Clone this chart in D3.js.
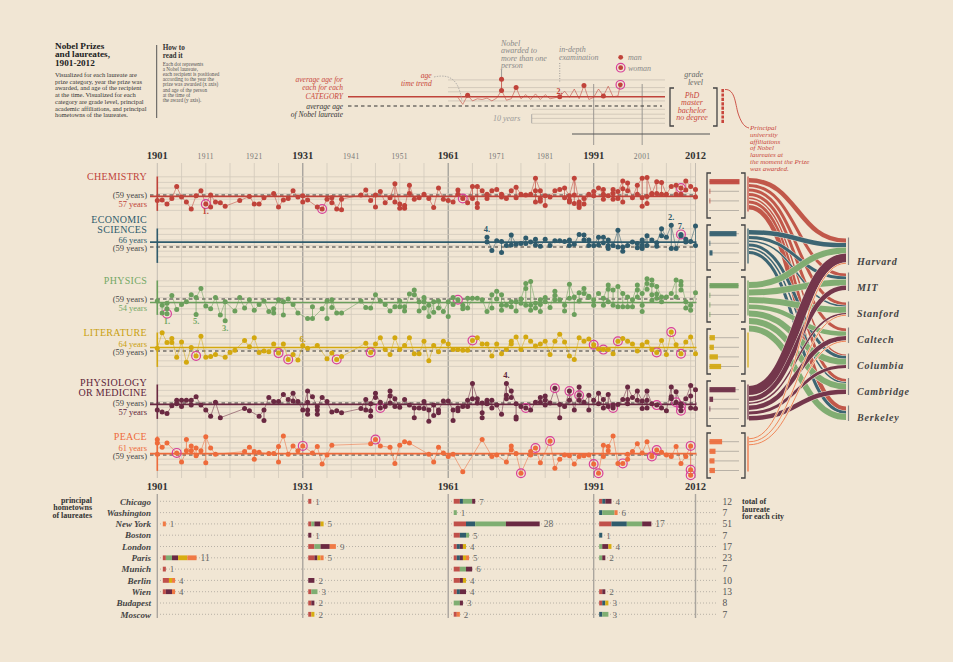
<!DOCTYPE html>
<html>
<head>
<meta charset="utf-8">
<script src="https://cdn.jsdelivr.net/npm/d3@7"></script>
<style>
html,body{margin:0;padding:0;background:#f1e6d4;overflow:hidden;}
</style>
</head>
<body>
<script>
// ================= DATA =================
const categoryTitles = [["CHEMISTRY"],["ECONOMIC","SCIENCES"],["PHYSICS"],["LITERATURE"],["PHYSIOLOGY","OR MEDICINE"],["PEACE"]];
const categoryColors = ["#c0433a","#2f5b6c","#6b9f5c","#d3a80f","#6a2942","#ee6b3b"];
const labelColors = ["#c0433a","#2f5b6c","#74a865","#c9a010","#5e2439","#ee6b3b"];
const averageAges = [57,66,54,64,57,61];
const overallAverage = 59;

// [year, age at award, woman flag]
const chemistry = [[1901,51],[1902,52],[1903,46],[1904,54],[1905,71],[1906,56],[1907,49],[1908,39],[1909,58],[1910,65],[1911,46,1],[1912,59],[1912,42],[1913,49],[1914,48],[1915,43],[1918,51],[1920,57],[1921,46],[1922,46],[1923,55],[1925,61],[1926,42],[1927,52],[1928,54],[1929,65],[1930,56],[1931,58],[1931,49],[1932,52],[1934,42],[1935,39,1],[1936,53],[1937,55],[1937,48],[1938,39],[1939,53],[1939,38],[1943,59],[1944,66],[1945,51],[1946,59],[1946,42],[1947,64],[1948,48],[1949,55],[1950,75],[1950,49],[1951,46],[1951,40],[1952,40],[1952,44],[1953,73],[1953,61],[1954,53],[1955,55],[1956,60],[1957,54],[1958,41],[1959,69],[1960,53],[1961,51],[1962,49],[1963,66],[1963,60],[1964,54,1],[1965,48],[1966,71],[1966,54],[1967,71],[1967,47],[1967,41],[1968,65],[1969,54],[1969,60],[1970,65],[1971,67],[1972,60],[1972,56],[1973,54],[1974,65],[1975,70],[1975,55],[1976,60],[1977,59],[1978,60],[1979,83],[1979,65],[1979,49],[1980,65],[1980,54],[1980,50],[1981,58],[1981,44],[1982,56],[1983,65],[1984,67],[1985,69],[1985,55],[1986,58],[1986,52],[1986,49],[1987,83],[1987,59],[1987,47],[1988,49],[1988,41],[1988,44],[1989,46],[1989,54],[1990,60],[1991,58],[1991,64],[1992,69],[1993,60],[1993,53],[1993,67],[1994,58],[1995,67],[1995,53],[1995,61],[1996,64],[1996,54],[1997,79],[1997,68],[1997,49],[1998,76],[1998,65],[1999,55],[2000,73],[2000,60],[2001,83],[2001,55],[2001,43],[2002,84],[2002,47],[2002,57],[2003,61],[2003,60],[2004,78],[2004,61],[2005,77],[2005,60],[2006,60],[2007,71],[2008,73],[2008,60],[2009,69,1],[2009,60],[2010,79],[2010,66],[2011,71],[2012,67],[2012,56]];

const economics = [[1969,73],[1969,66],[1970,54],[1971,68],[1972,67],[1972,51],[1973,61],[1974,76],[1974,62],[1975,63],[1976,64],[1977,72],[1977,64],[1978,66],[1979,70],[1979,62],[1980,60],[1981,70],[1982,61],[1983,68],[1984,68],[1985,67],[1986,69],[1986,61],[1987,63],[1988,77],[1989,76],[1989,69],[1990,69],[1990,61],[1991,61],[1992,73],[1992,62],[1993,73],[1993,65],[1994,69],[1994,61],[1994,57],[1995,61],[1996,83],[1996,59],[1997,59],[1997,53],[1998,61],[1999,66],[2000,64],[2000,58],[2001,57],[2001,62],[2001,69],[2002,75],[2002,61],[2003,69],[2004,65],[2004,60],[2005,85],[2005,75],[2006,73],[2007,90],[2007,57],[2008,57],[2009,77,1],[2009,75],[2010,70],[2010,66],[2011,67],[2012,89],[2012,61]];

const physics = [[1901,56],[1902,50],[1902,39],[1903,53],[1903,45],[1903,38,1],[1904,64],[1905,44],[1906,51],[1907,55],[1908,65],[1909,61],[1909,37],[1910,74],[1911,49],[1912,45],[1913,61],[1914,36],[1915,55],[1915,28],[1917,42],[1918,61],[1919,46],[1920,58],[1921,43],[1922,51],[1923,56],[1924,41],[1925,45],[1925,39],[1926,58],[1927,55],[1927,36],[1928,59],[1929,51],[1930,39],[1932,31],[1933,31],[1933,48],[1935,45],[1936,56],[1936,31],[1937,58],[1937,47],[1938,39],[1939,39],[1943,56],[1944,47],[1945,46],[1946,65],[1947,56],[1948,51],[1949,42],[1950,48],[1951,56],[1951,48],[1952,42],[1952,48],[1953,66],[1954,72],[1954,65],[1955,55],[1955,42],[1956,61],[1956,46],[1956,55],[1957,34],[1957,50],[1958,55],[1958,40],[1959,56],[1959,46],[1960,41],[1961,55],[1961,34],[1962,61],[1962,51],[1963,58,1],[1964,50],[1964,45],[1965,46],[1965,60],[1966,60],[1967,60],[1968,58],[1969,41],[1970,65],[1970,46],[1971,70],[1971,59],[1972,65],[1972,43],[1972,50],[1973,50],[1974,55],[1974,48],[1975,55],[1975,42],[1976,59],[1976,53],[1977,81],[1977,74],[1977,50],[1978,84],[1978,50],[1978,43],[1979,53],[1979,46],[1980,58],[1980,51],[1980,41],[1981,61],[1981,55],[1982,47],[1983,70],[1983,64],[1983,58],[1984,58],[1985,50],[1985,42],[1986,80],[1986,60],[1987,62],[1987,37],[1988,68],[1988,56],[1989,74],[1989,67],[1990,63],[1990,61],[1991,58],[1991,50],[1992,67],[1993,60],[1993,50],[1994,79],[1994,73],[1994,55],[1995,72],[1995,50],[1996,77],[1996,48],[1997,67],[1997,48],[1998,62],[1998,48],[1999,58],[1999,48],[2000,79],[2000,72],[2000,62],[2001,67],[2001,50],[2001,41],[2002,88],[2002,81],[2002,73],[2003,86],[2003,79],[2003,65],[2003,57],[2004,77],[2004,66],[2004,60],[2005,62],[2005,55],[2006,62],[2007,67],[2008,86],[2008,62],[2009,84],[2009,79],[2009,72],[2010,55],[2010,46],[2011,43],[2011,50],[2012,68]];

const literature = [[1901,63],[1902,85],[1903,71],[1904,77],[1904,71],[1905,50],[1906,72],[1907,43],[1908,64],[1909,52,1],[1910,80],[1911,50],[1912,51],[1913,54],[1915,50],[1916,57],[1917,60],[1919,74],[1920,65],[1921,78],[1922,57],[1923,59],[1924,58],[1925,69],[1926,56,1],[1927,69],[1928,47,1],[1929,54],[1930,46],[1931,67],[1932,63],[1934,67],[1936,48],[1937,56],[1938,47,1],[1939,51],[1944,70],[1945,57,1],[1946,69],[1947,78],[1948,61],[1949,54],[1950,78],[1951,61],[1952,67],[1953,78],[1954,55],[1955,55],[1956,73],[1957,45],[1958,67],[1959,58],[1960,73],[1961,69],[1962,61],[1963,61],[1964,60],[1965,60],[1966,74,1],[1967,78],[1968,69],[1969,69],[1970,52],[1971,69],[1972,55],[1973,61],[1974,73],[1974,69],[1975,79],[1976,61],[1977,79],[1978,73],[1979,66],[1980,69],[1981,73],[1982,54],[1983,73],[1984,83],[1985,72],[1986,52],[1987,47],[1988,78],[1989,73],[1990,76],[1991,68,1],[1992,62],[1993,61,1],[1994,61],[1995,55],[1996,73,1],[1997,77],[1998,73],[1999,69],[2000,59],[2001,68],[2002,72],[2003,61],[2004,57,1],[2005,74],[2006,54],[2007,86,1],[2008,68],[2009,55,1],[2010,72],[2011,79],[2012,55]];

const physiology = [[1901,49],[1902,46],[1903,44],[1904,55],[1905,63],[1905,58],[1906,63],[1906,54],[1907,63],[1908,63],[1908,56],[1909,68],[1910,56],[1911,49],[1912,40],[1913,60],[1914,38],[1919,51],[1920,48],[1922,40],[1923,49],[1923,34],[1924,67],[1925,61],[1926,61],[1927,71],[1928,64],[1929,73],[1929,62],[1930,61],[1931,49],[1932,76],[1932,60],[1932,49],[1932,43],[1933,68],[1934,54],[1934,49],[1934,43],[1935,67],[1936,61],[1937,46],[1938,48],[1939,45],[1943,51],[1944,64],[1944,49],[1945,58],[1945,48],[1945,40],[1946,73],[1946,67],[1947,60],[1947,52,1],[1948,54],[1949,76],[1949,69],[1949,59],[1950,65],[1950,54],[1951,53],[1952,64],[1953,56],[1954,52],[1954,38],[1955,52],[1956,61],[1956,51],[1957,49],[1957,33],[1958,56],[1958,41],[1959,49],[1959,45],[1960,62],[1961,62],[1962,49],[1962,34],[1963,52],[1963,48],[1964,54],[1965,63],[1965,54],[1966,87],[1966,65],[1967,65],[1967,59],[1968,59],[1968,45],[1968,38],[1969,63],[1969,58],[1970,63],[1970,52],[1971,56],[1972,43],[1973,87],[1973,70],[1973,65],[1974,76],[1974,67],[1975,58],[1975,39],[1975,36],[1976,54],[1977,52,1],[1978,49],[1979,60],[1980,67],[1980,60],[1981,69],[1981,63],[1981,56],[1982,59],[1983,80,1],[1984,57],[1984,38],[1985,54],[1986,76,1],[1986,63],[1987,49],[1988,82],[1988,70,1],[1988,63],[1989,60],[1990,70],[1990,49],[1991,63],[1992,73],[1992,58],[1993,64],[1993,52],[1994,71],[1994,54],[1995,52,1],[1995,56],[1996,57],[1997,64],[1998,82],[1998,64],[1998,58],[1999,67],[2000,76],[2000,63],[2001,62],[2001,51],[2002,76],[2002,63],[2002,52],[2003,58],[2004,56,1],[2005,52],[2006,48],[2007,82],[2007,68],[2007,65],[2008,75],[2008,60,1],[2009,58],[2009,54,1],[2009,48,1],[2010,65],[2011,84],[2011,69],[2011,52],[2012,78],[2012,51]];

const peace = [[1901,81],[1901,76],[1901,60],[1902,70],[1903,76],[1905,62,1],[1906,49],[1907,65],[1907,81],[1908,72],[1908,65],[1909,58],[1909,69],[1910,65],[1911,85],[1911,48],[1912,69],[1913,60],[1919,64],[1920,70],[1921,64],[1921,53],[1922,63],[1924,61],[1925,61],[1926,71],[1926,49],[1927,86],[1928,60],[1929,72],[1930,65],[1931,72,1],[1933,62],[1934,71],[1935,46],[1936,59],[1937,73],[1945,75],[1946,81,1],[1947,72],[1949,70],[1950,47],[1951,73],[1952,78],[1953,76],[1957,60],[1958,49],[1959,70],[1960,62],[1961,57],[1962,60],[1964,35],[1968,81],[1970,57],[1971,59],[1973,49],[1974,72],[1974,66],[1975,61],[1976,33,1],[1978,64],[1978,59],[1979,69,1],[1980,48],[1982,79,1],[1983,40],[1984,53],[1985,59],[1986,58],[1987,46],[1988,57],[1989,58],[1990,59],[1991,46,1],[1992,33,1],[1993,73],[1993,57],[1994,71],[1994,65],[1995,86],[1996,47],[1997,47,1],[1998,53],[1998,60],[1999,64],[2000,75],[2001,62],[2002,78],[2003,57,1],[2004,66,1],[2005,63],[2006,59],[2007,57],[2008,71],[2009,47],[2010,57],[2011,72,1],[2011,38,1],[2011,30,1]];

// numbered notes: [category index, year, label]
const notes = [[0,1911,"1."],[2,1903,"1."],[2,1909,"5."],[2,1915,"3."],[3,1931,"6."],[1,1969,"4."],[1,2007,"2."],[1,2009,"7."],[4,1973,"4."]];

// grade level: PhD, master, bachelor, no degree
const gradeLevels = ["PhD","master","bachelor","no degree"];
const gradeChemistry = [150,2,2,0];
const gradeEconomics = [135,2,15,0];
const gradePhysics = [145,2,2,2];
const gradeLiterature = [27,22,42,58];
const gradePhysiology = [130,18,2,0];
const gradePeace = [63,30,25,27];

// university affiliations at the moment of the prize
const universities = ["Harvard","MIT","Stanford","Caltech","Columbia","Cambridge","Berkeley"];
const flowChemistry = [3,2,2,2,1,2,3];
const flowEconomics = [3,2,1,0,2,1,2];
const flowPhysics = [4,4,4,3,4,4,4];
const flowLiterature = [0,0,0,0,0,0,0];
const flowPhysiology = [6,3,1,3,2,3,0];
const flowPeace = [1,0,1,1,0,0,0];

// hometowns; per city counts [chemistry, economics, physics, physiology, literature, peace]
const cities = ["Chicago","Washington","New York","Boston","London","Paris","Munich","Berlin","Wien","Budapest","Moscow"];
const periods = [1901,1931,1961,1991];
const hometowns1901 = [[0,0,0,0,0,0],[0,0,0,0,0,0],[0,0,0,0,0,1],[0,0,0,0,0,0],[0,0,0,0,0,0],[1,0,2,2,3,3],[1,0,0,0,0,0],[2,0,0,0,1,1],[1,0,0,2,0,1],[0,0,0,0,0,0],[0,0,0,0,0,0]];
const hometowns1931 = [[1,0,0,0,0,0],[0,0,0,0,0,0],[1,0,1,2,1,0],[0,0,0,1,0,0],[2,0,2,3,0,2],[2,0,0,1,1,1],[0,0,0,0,0,0],[0,0,0,2,0,0],[1,0,2,0,0,0],[1,0,0,1,0,0],[1,0,0,0,1,0]];
const hometowns1961 = [[2,1,3,1,0,0],[0,0,1,0,0,0],[4,3,10,11,0,0],[2,2,1,0,0,0],[1,1,0,1,1,0],[1,1,0,1,1,1],[2,0,2,2,0,0],[2,0,0,1,1,0],[1,1,0,2,0,0],[0,0,2,1,0,0],[1,0,0,0,0,1]];
const hometowns1991 = [[1,1,0,2,0,0],[0,1,4,0,0,1],[4,5,5,3,0,0],[0,1,0,0,0,0],[0,0,1,2,1,0],[0,0,1,1,0,0],[0,0,0,0,0,0],[0,0,0,0,0,0],[1,0,0,1,0,0],[1,1,0,0,1,0],[0,1,2,0,0,0]];
const barColors = ["#c0504a","#2f5b6c","#7fae72","#6a2942","#d8ad10","#f07a45"];

// legend sample
const legendDots = [[1965,61],[1972,84],[1972,68],[1975,72],[1984,59],[1989,75],[1993,60]];
const legendWoman = [1996.5,76];
const legendTrend = [[1963,58],[1964,48],[1965,61],[1966,53],[1967,56],[1968,55],[1969,57],[1970,53],[1971,57],[1972,68],[1973,54],[1974,56],[1975,72],[1976,56],[1977,62],[1978,55],[1979,63],[1980,55],[1981,62],[1982,56],[1984,59],[1985,67],[1986,58],[1987,70],[1988,56],[1989,75],[1990,55],[1991,58],[1992,70],[1993,60],[1994,74],[1995,59],[1996,60],[1996.5,76]];
const legendGridAges = [83,72,66,53];
const legendLowerGridAges = [41,34,28,21];

const topYears = [1901,1911,1921,1931,1941,1951,1961,1971,1981,1991,2001,2012];
const boldYears = [1901,1931,1961,1991,2012];

// ================= DRAW =================
const FONT = "'Liberation Serif','DejaVu Serif',serif";
const BG = "#f1e6d4";
const W = 953, H = 662;
const svg = d3.select("body").append("svg").attr("width",W).attr("height",H).style("font-family",FONT);
svg.append("rect").attr("width",W).attr("height",H).attr("fill",BG);

const x = d3.scaleLinear().domain([1901,2012]).range([157.3,695.5]);
const rowY0 = i => 195 + i*52;
const ageScale = y0 => d3.scaleLinear().domain([29,89]).range([y0+21,y0-21]);

function txt(g, tx, ty, s, o) {
  o = o || {};
  return g.append("text").attr("x",tx).attr("y",ty).text(s)
    .attr("font-size",o.size||8).attr("fill",o.fill||"#333")
    .attr("font-weight",o.bold?"bold":null).attr("font-style",o.italic?"italic":null)
    .attr("text-anchor",o.anchor||"start").attr("letter-spacing",o.ls||null);
}

// ---------- title block ----------
const tb = svg.append("g");
["Nobel Prizes","and laureates,","1901-2012"].forEach((s,i)=>txt(tb,55,49+i*8.3,s,{size:9.2,bold:true,fill:"#222"}));
["Visualized for each laureate are","prize category, year the prize was","awarded, and age of the recipient","at the time. Visualized for each","category are grade level, principal","academic affiliations, and principal","hometowns of the laureates."]
  .forEach((s,i)=>txt(tb,55,77+i*6.7,s,{size:6.5,fill:"#333"}));
tb.append("line").attr("x1",156.7).attr("x2",156.7).attr("y1",45).attr("y2",118).attr("stroke","#555").attr("stroke-width",1);
["How to","read it"].forEach((s,i)=>txt(tb,162.7,50+i*7.6,s,{size:7.2,bold:true,fill:"#333"}));
["Each dot represents","a Nobel laureate,","each recipient is positioned","according to the year the","prize was awarded (x axis)","and age of the person","at the time of","the award (y axis)."]
  .forEach((s,i)=>txt(tb,162.7,65.5+i*5.2,s,{size:5.2,fill:"#555"}));

// ---------- legend ----------
const lg = svg.append("g");
const legY = d3.scaleLinear().domain([29,89]).range([96.7+21,96.7-21]);
lg.selectAll("line.lgrid").data(legendGridAges).join("line")
  .attr("x1",448).attr("x2",665).attr("y1",d=>legY(d)).attr("y2",d=>legY(d)).attr("stroke","#cbc2b4").attr("stroke-width",0.8);
lg.selectAll("line.lgrid2").data(legendLowerGridAges).join("line")
  .attr("x1",532).attr("x2",665).attr("y1",d=>legY(d)).attr("y2",d=>legY(d)).attr("stroke","#cbc2b4").attr("stroke-width",0.8);
[1991,2001].forEach(yr=>lg.append("line").attr("x1",x(yr)).attr("x2",x(yr)).attr("y1",84).attr("y2",145).attr("stroke","#9c9893").attr("stroke-width",1));
lg.append("line").attr("x1",572).attr("x2",710).attr("y1",134).attr("y2",134).attr("stroke","#555").attr("stroke-width",1.2);
lg.append("line").attr("x1",348).attr("x2",665).attr("y1",96.7).attr("y2",96.7).attr("stroke",categoryColors[0]).attr("stroke-width",1.6);
lg.append("line").attr("x1",348).attr("x2",662).attr("y1",106).attr("y2",106).attr("stroke","#333").attr("stroke-width",1).attr("stroke-dasharray","3.5,3");
lg.append("path").attr("d",d3.line().x(d=>x(d[0])).y(d=>legY(d[1]))(legendTrend))
  .attr("fill","none").attr("stroke",categoryColors[0]).attr("stroke-width",0.7).attr("opacity",0.8);
lg.append("line").attr("x1",x(1972)).attr("x2",x(1972)).attr("y1",70).attr("y2",legY(84)).attr("stroke","#888").attr("stroke-width",0.8);
lg.append("line").attr("x1",x(1972)).attr("x2",x(1972)).attr("y1",legY(84)).attr("y2",legY(68)).attr("stroke",categoryColors[0]).attr("stroke-width",0.8);
lg.append("line").attr("x1",x(1984)).attr("x2",x(1984)).attr("y1",63).attr("y2",82).attr("stroke","#888").attr("stroke-width",0.8).attr("stroke-dasharray","1,1.5");
lg.selectAll("circle.ld").data(legendDots).join("circle")
  .attr("cx",d=>x(d[0])).attr("cy",d=>legY(d[1])).attr("r",2.5).attr("fill",categoryColors[0]);
lg.append("circle").attr("cx",x(legendWoman[0])).attr("cy",legY(legendWoman[1])).attr("r",4.3).attr("fill","none").attr("stroke","#d8409a").attr("stroke-width",1.2);
lg.append("circle").attr("cx",x(legendWoman[0])).attr("cy",legY(legendWoman[1])).attr("r",2.4).attr("fill",categoryColors[0]);
txt(lg,556.5,93.5,"2.",{size:8,bold:true,fill:categoryColors[0]});
const red = "#c8463c";
["average age for","each for each","CATEGORY"].forEach((s,i)=>txt(lg,343,82+i*8.4,s,{size:7.5,italic:true,fill:red,anchor:"end"}));
["average age","of Nobel laureate"].forEach((s,i)=>txt(lg,343,108.5+i*8.2,s,{size:7.5,italic:true,fill:"#333",anchor:"end"}));
["age","time trend"].forEach((s,i)=>txt(lg,431.7,77.5+i*8,s,{size:7.6,italic:true,fill:red,anchor:"end"}));
lg.append("path").attr("d","M434,77 C452,73 459,82 462,101").attr("fill","none").attr("stroke","#999").attr("stroke-width",0.7).attr("stroke-dasharray","1.5,1.2");
["Nobel","awarded to","more than one","person"].forEach((s,i)=>txt(lg,501,45.5+i*7.5,s,{size:8,italic:true,fill:"#888"}));
["in-depth","examination"].forEach((s,i)=>txt(lg,559,52+i*7.6,s,{size:8,italic:true,fill:"#888"}));
lg.append("circle").attr("cx",620.7).attr("cy",57.3).attr("r",2.4).attr("fill",categoryColors[0]);
txt(lg,628,60,"man",{size:8,italic:true,fill:"#888"});
lg.append("circle").attr("cx",620.7).attr("cy",67.7).attr("r",4.3).attr("fill","none").attr("stroke","#d8409a").attr("stroke-width",1.2);
lg.append("circle").attr("cx",620.7).attr("cy",67.7).attr("r",2.4).attr("fill",categoryColors[0]);
txt(lg,628,71,"woman",{size:8,italic:true,fill:"#888"});
["grade","level"].forEach((s,i)=>txt(lg,703,77+i*8,s,{size:8,italic:true,fill:"#666",anchor:"end"}));
txt(lg,493,121,"10 years",{size:8,italic:true,fill:"#999"});
lg.append("line").attr("x1",531.7).attr("x2",531.7).attr("y1",legY(34)).attr("y2",legY(21)).attr("stroke","#999").attr("stroke-width",0.8);
const lb = lg.append("g").attr("stroke","#444").attr("stroke-width",1.3).attr("fill","none");
lb.append("path").attr("d","M674,88 H670 V126 H674");
lb.append("path").attr("d","M713,88 H717 V126 H713");
gradeLevels.forEach((s,i)=>txt(lg,692,98+i*7.3,s,{size:8,italic:true,fill:red,anchor:"middle"}));
lg.append("line").attr("x1",722.7).attr("x2",722.7).attr("y1",89).attr("y2",123).attr("stroke",red).attr("stroke-width",2.6).attr("stroke-dasharray","3.2,1.2");
lg.append("path").attr("d","M725,89.5 C736,89 735,106 739,116 C742,124 745,127 749,128").attr("fill","none").attr("stroke",red).attr("stroke-width",0.9);
["Principal","university","affiliations","of Nobel","laureates at","the moment the Prize","was awarded."].forEach((s,i)=>txt(lg,750,130+i*6.75,s,{size:7,italic:true,fill:red}));

// ---------- main grid ----------
const gridYears = d3.range(1901,2012,5).concat([2012]);
const major = [1931,1961,1991];
svg.append("g").selectAll("line").data(gridYears).join("line")
  .attr("x1",d=>x(d)).attr("x2",d=>x(d)).attr("y1",163).attr("y2",478)
  .attr("stroke",d=>major.includes(d)?"#a19e99":(d===2012||d===1901?"#b9b3aa":"#d2c9bb"))
  .attr("stroke-width",d=>major.includes(d)?1.3:0.8);

const yl = svg.append("g");
topYears.forEach(yr=>{
  const b = boldYears.includes(yr);
  txt(yl,x(yr),b?158.5:159,String(yr),{size:b?10.5:7.5,bold:b,fill:b?"#333":"#777",anchor:"middle",ls:b?null:0.4});
});
boldYears.forEach(yr=>txt(yl,x(yr),489.5,String(yr),{size:10.5,bold:true,fill:"#333",anchor:"middle"}));

const gridAges = [85,77,69,61,53,45,37];
const allData = [chemistry,economics,physics,literature,physiology,peace];
const grades = [gradeChemistry,gradeEconomics,gradePhysics,gradeLiterature,gradePhysiology,gradePeace];
const flows = [flowChemistry,flowEconomics,flowPhysics,flowLiterature,flowPhysiology,flowPeace];

allData.forEach((data,i)=>{
  const y0 = rowY0(i);
  const a = ageScale(y0);
  const col = categoryColors[i];
  const g = svg.append("g");
  g.selectAll("line.h").data(gridAges).join("line")
    .attr("x1",x(1901)).attr("x2",x(2012)).attr("y1",d=>a(d)).attr("y2",d=>a(d))
    .attr("stroke","#d2c9bb").attr("stroke-width",0.8);
  g.append("line").attr("x1",150).attr("x2",x(2012)+1).attr("y1",a(overallAverage)).attr("y2",a(overallAverage))
    .attr("stroke","#333").attr("stroke-width",1).attr("stroke-dasharray","3.5,3");
  g.append("line").attr("x1",150).attr("x2",x(2012)+1).attr("y1",a(averageAges[i])).attr("y2",a(averageAges[i]))
    .attr("stroke",col).attr("stroke-width",1.7);
  g.append("line").attr("x1",x(1901)).attr("x2",x(1901)).attr("y1",a(85)-0.3).attr("y2",a(37)+0.5)
    .attr("stroke",col).attr("stroke-width",1.6);

  const byYear = d3.groups(data,d=>d[0]).sort((p,q)=>p[0]-q[0]);
  g.append("path").attr("d",d3.line().x(d=>x(d[0])).y(d=>a(d[1][0][1]))(byYear))
    .attr("fill","none").attr("stroke",col).attr("stroke-width",0.7).attr("opacity",0.75);
  byYear.filter(d=>d[1].length>1).forEach(([yr,arr])=>{
    const ext = d3.extent(arr,d=>d[1]);
    g.append("line").attr("x1",x(yr)).attr("x2",x(yr)).attr("y1",a(ext[0])).attr("y2",a(ext[1]))
      .attr("stroke",col).attr("stroke-width",0.8).attr("opacity",0.85);
  });
  g.selectAll("circle.w").data(data.filter(d=>d[2])).join("circle")
    .attr("cx",d=>x(d[0])).attr("cy",d=>a(d[1])).attr("r",4.4).attr("fill","none")
    .attr("stroke","#d8409a").attr("stroke-width",1.2);
  g.selectAll("circle.d").data(data).join("circle")
    .attr("cx",d=>x(d[0])).attr("cy",d=>a(d[1])).attr("r",2.5).attr("fill",col);

  // labels
  const titles = categoryTitles[i];
  const above = averageAges[i] > overallAverage;
  const t0 = y0 - 19 - (titles.length>1 ? (above ? 8.5 : 1.2) : 0);
  titles.forEach((s,k)=>txt(g,147,t0+k*10+3.5,s,{size:10,fill:labelColors[i],ls:0.3,anchor:"end"}));
  const avgC = above ? y0-7.5 : y0+8.5;
  const dashC = above ? y0+0.8 : y0-0.3;
  txt(g,147,dashC+3,"("+overallAverage+" years)",{size:8.5,fill:"#444",anchor:"end"});
  txt(g,147,avgC+3,averageAges[i]+" years",{size:8.5,fill:labelColors[i],anchor:"end"});

  // grade bracket
  const gb = g.append("g");
  const gt = y0-22, gbm = y0+23;
  gb.append("path").attr("d",`M711,${gt} H707 V${gbm} H711`).attr("fill","none").attr("stroke","#444").attr("stroke-width",1.3);
  gb.append("path").attr("d",`M741,${gt} H745 V${gbm} H741`).attr("fill","none").attr("stroke","#444").attr("stroke-width",1.3);
  grades[i].forEach((v,k)=>{
    const gy = y0-13.3+k*9.6;
    gb.append("line").attr("x1",709).attr("x2",739).attr("y1",gy).attr("y2",gy).attr("stroke","#a9a39a").attr("stroke-width",0.8);
    if (v>0) gb.append("rect").attr("x",709.5).attr("y",gy-2.6).attr("width",Math.max(0.8,v*0.2)).attr("height",5.2).attr("fill",col).attr("opacity",0.92);
  });
  g.append("line").attr("x1",748).attr("x2",748).attr("y1",a(85)-0.3).attr("y2",a(37)+1).attr("stroke",col).attr("stroke-width",1.4).attr("opacity",0.85);
});

// notes
const nt = svg.append("g");
notes.forEach(([ci,yr,s])=>{
  const y0 = rowY0(ci);
  const a = ageScale(y0);
  const pts = allData[ci].filter(d=>d[0]===yr);
  let ty;
  if (ci===1 || ci===4) ty = a(d3.max(pts,d=>d[1])) - 5;
  else if (ci===3) ty = y0 - 9;
  else ty = a(d3.min(pts,d=>d[1])) + 10;
  txt(nt,x(yr),ty,s,{size:8.5,bold:true,fill:labelColors[ci],anchor:"middle"});
});

// ---------- university flows ----------
const K = 1.5, GAP = 1.5;
const fg = svg.append("g");
const uniLabelY = universities.map((u,j)=>262+j*26);
const uniTotals = universities.map((u,j)=>d3.sum(flows,f=>f[j]));
const uniBottom = uniLabelY.map(v=>v+2);
const uniTop = uniBottom.map((b,j)=>b-uniTotals[j]*K);
const uniCursor = uniTop.slice();
const strands = [];
flows.forEach((f,i)=>{
  let ly0 = rowY0(i) - 17;
  f.forEach((v,j)=>{
    if (!v) return;
    const w = v*K;
    const yl = ly0 + w/2; ly0 += w + GAP;
    strands.push({i,j,w,yl});
  });
});
universities.forEach((u,j)=>{
  strands.filter(s=>s.j===j).sort((p,q)=>p.i-q.i).forEach(s=>{ s.yr = uniCursor[j] + s.w/2; uniCursor[j] += s.w; });
});
const link = d3.linkHorizontal();
const flowColors = ["#bd4c40","#2f5b6c","#78a86a","#d3a80f","#6a2942","#ef7440"];
strands.forEach(s=>{
  const d = link({source:[749,s.yl],target:[846,s.yr]});
  fg.append("path").attr("d",d).attr("fill","none").attr("stroke",BG).attr("stroke-width",s.w+(s.i===5?0.6:1.0)).attr("opacity",0.9);
  fg.append("path").attr("d",d).attr("fill","none").attr("stroke",flowColors[s.i]).attr("stroke-width",s.i===5?0.9:s.w).attr("opacity",0.93);
});
universities.forEach((u,j)=>{
  fg.append("line").attr("x1",848.5).attr("x2",848.5).attr("y1",uniTop[j]-1).attr("y2",uniBottom[j]+1).attr("stroke","#888").attr("stroke-width",1.2);
  txt(fg,857,uniLabelY[j]+3,u,{size:10,italic:true,bold:true,fill:"#444",ls:0.8});
});

// ---------- hometowns ----------
const ht = svg.append("g");
const rowYc = j => 501.3 + j*11.3;
const hometowns = [hometowns1901,hometowns1931,hometowns1961,hometowns1991];
boldYears.forEach(yr=>ht.append("line").attr("x1",x(yr)).attr("x2",x(yr)).attr("y1",494).attr("y2",618).attr("stroke","#aaa59e").attr("stroke-width",1.4));
["principal","hometowns","of laureates"].forEach((s,i)=>txt(ht,92,502.5+i*7.6,s,{size:8,bold:true,fill:"#333",anchor:"end"}));
["total of","laureate","for each city"].forEach((s,i)=>txt(ht,742,504+i*7.6,s,{size:8,bold:true,fill:"#333"}));
const U = 3.07;
cities.forEach((c,j)=>{
  const yc = rowYc(j);
  txt(ht,151,yc+3.2,c,{size:9,italic:true,bold:true,fill:"#444",anchor:"end"});
  ht.append("line").attr("x1",160).attr("x2",716).attr("y1",yc).attr("y2",yc).attr("stroke","#a9a39a").attr("stroke-width",0.8).attr("stroke-dasharray","1,2");
  let total = 0;
  periods.forEach((p,pi)=>{
    const counts = hometowns[pi][j];
    const n = d3.sum(counts);
    total += n;
    if (!n) return;
    let cx = x(p)+5.5;
    counts.forEach((v,k)=>{
      if (!v) return;
      ht.append("rect").attr("x",cx).attr("y",yc-2.4).attr("width",v*U).attr("height",4.8).attr("fill",barColors[k]);
      cx += v*U;
    });
    txt(ht,cx+4,yc+3.3,String(n),{size:n>=10?9.5:9,fill:"#666"});
  });
  txt(ht,722.5,yc+3.3,String(total),{size:9.5,fill:"#555"});
});
</script>
</body>
</html>
